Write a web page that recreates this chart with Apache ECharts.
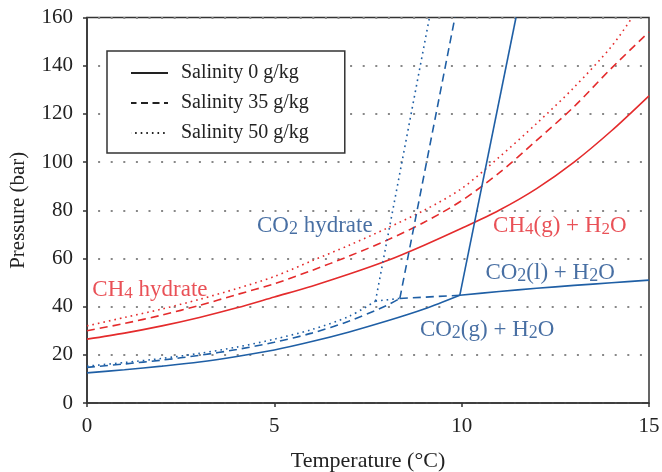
<!DOCTYPE html>
<html><head><meta charset="utf-8">
<script src="https://cdn.jsdelivr.net/npm/echarts@6/dist/echarts.min.js"></script>
<style>html,body{margin:0;padding:0;background:#fff}#c{width:662px;height:472px}</style>
</head><body><div id="c"></div>
<script>
// ---- data ----
const xTicks = [0, 5, 10, 15];
const yTicks = [0, 20, 40, 60, 80, 100, 120, 140, 160];
const legendNames = ['Salinity 0 g/kg', 'Salinity 35 g/kg', 'Salinity 50 g/kg'];

// CH4 hydrate equilibrium curves
const ch4T = [0,1,2,3,4,5,6,7,8,9,10,11,12,13,14,15];
const ch4P_s0 = [26.5,29,32,35.5,39.5,44,48.5,53.5,59,65.5,72.5,80,89,100,113,127.5];
const ch4P_s35 = [30,33,36.5,40.5,45,49.5,55,61,67.5,75,84,95.5,109,123,139,154];
const ch4T_s50 = [0,1,2,3,4,5,6,7,8,9,10,11,12,13,14,14.55];
const ch4P_s50 = [32,35.5,39,43,47.5,52.5,59,65.5,72.5,80,89,102,116,131,148,160];

// CO2 hydrate - gas boundary
const co2T_s0 = [0,1,2,3,4,5,6,7,8,9,9.95];
const co2P_s0 = [12.5,13.8,15.3,17,19.3,22,25.5,29.5,34,39,44.7];
const co2T_s35 = [0,1,2,3,4,5,6,7,8,8.35];
const co2P_s35 = [14.8,16.2,17.8,19.8,22.2,25.2,29,34,40.5,43.4];
const co2T_s50 = [0,1,2,3,4,5,6,7,7.7];
const co2P_s50 = [15.3,16.8,18.5,20.6,23.2,26.5,30.5,36,42.3];
// CO2 hydrate - liquid boundary (steep)
const co2UpT_s0 = [9.95, 11.45];   const co2UpP_s0 = [44.7, 160];
const co2UpT_s35 = [8.35, 9.82];   const co2UpP_s35 = [43.4, 160];
const co2UpT_s50 = [7.7, 9.14];    const co2UpP_s50 = [42.3, 160];
// CO2 gas-liquid boundary
const co2LiqT = [9.95, 11, 12, 13, 14, 15];
const co2LiqP = [44.7, 46.3, 47.6, 48.8, 49.9, 51];
const co2LinkT_s35 = [8.35, 9.95]; const co2LinkP_s35 = [43.4, 44.7];
const co2LinkT_s50 = [7.7, 8.35];  const co2LinkP_s50 = [42.3, 43.4];

// region labels
const labelT = [6.08, 1.68, 12.62, 12.36, 10.68];
const labelP = [73.4, 46.8, 73.4, 54.0, 30.2];
const labelText = ['{b|CO}{bs|2}{b| hydrate}', '{r|CH}{rs|4}{r| hydrate}', '{r|CH}{rs|4}{r|(g) + H}{rs|2}{r|O}', '{b|CO}{bs|2}{b|(l) + H}{bs|2}{b|O}', '{b|CO}{bs|2}{b|(g) + H}{bs|2}{b|O}'];

// ---- chart ----
const RED = '#e42b2c', BLUE = '#1f5fa5', RED_T = '#e3262d', BLUE_T = '#1a4b8c';
const FONT = 'Liberation Serif';
const pairs = (xs, ys) => xs.map((x, i) => [x, ys[i]]);
const DASH = [8, 5], DOT = [1.6, 4];
function line(name, xs, ys, color, type, smooth) {
  return { name, type: 'line', data: pairs(xs, ys), symbol: 'none', showSymbol: false, silent: true, z: 3,
    smooth: smooth ? 0.3 : false,
    itemStyle: { color }, lineStyle: { color, width: 1.6, type }, animation: false };
}
const series = [
  line('ch4_s0', ch4T, ch4P_s0, RED, 'solid', true),
  line('ch4_s35', ch4T, ch4P_s35, RED, DASH, true),
  line('ch4_s50', ch4T_s50, ch4P_s50, RED, DOT, true),
  line('co2_s0', co2T_s0, co2P_s0, BLUE, 'solid', true),
  line('co2_s35', co2T_s35, co2P_s35, BLUE, DASH, true),
  line('co2_s50', co2T_s50, co2P_s50, BLUE, DOT, true),
  line('co2up_s0', co2UpT_s0, co2UpP_s0, BLUE, 'solid'),
  line('co2up_s35', co2UpT_s35, co2UpP_s35, BLUE, DASH),
  line('co2up_s50', co2UpT_s50, co2UpP_s50, BLUE, DOT),
  line('co2liq', co2LiqT, co2LiqP, BLUE, 'solid', true),
  line('co2link_s35', co2LinkT_s35, co2LinkP_s35, BLUE, DASH),
  line('co2link_s50', co2LinkT_s50, co2LinkP_s50, BLUE, DOT),
  line(legendNames[0], [], [], '#222', 'solid'),
  line(legendNames[1], [], [], '#222', [7, 4.5]),
  line(legendNames[2], [], [], '#222', [1.6, 4]),
  {
    type: 'scatter', symbolSize: 0, silent: true, z: 5, animation: false,
    data: labelT.map((t, i) => ({ value: [t, labelP[i]],
      label: { show: true, position: 'inside', formatter: labelText[i] } })),
    label: {
      rich: {
        b: { color: BLUE_T, fontFamily: FONT, fontSize: 23, lineHeight: 24, verticalAlign: 'middle' },
        bs: { color: BLUE_T, fontFamily: FONT, fontSize: 18, lineHeight: 24, verticalAlign: 'bottom' },
        r: { color: RED_T, fontFamily: FONT, fontSize: 23, lineHeight: 24, verticalAlign: 'middle' },
        rs: { color: RED_T, fontFamily: FONT, fontSize: 17, lineHeight: 24, verticalAlign: 'bottom' }
      }
    }
  }
];

const chart = echarts.init(document.getElementById('c'), null, { renderer: 'canvas' });
chart.setOption({
  animation: false,
  backgroundColor: '#fff',
  grid: { left: 87, right: 13, top: 17.5, bottom: 69, outerBoundsMode: 'none', containLabel: false,
    show: true, borderColor: '#333', borderWidth: 1.5, backgroundColor: 'transparent' },
  legend: {
    data: legendNames, orient: 'vertical', left: 107, top: 51,
    padding: [12, 36, 10, 23], itemWidth: 37, itemHeight: 14, itemGap: 10,
    backgroundColor: '#fff', borderColor: '#333', borderWidth: 1.5, borderRadius: 0,
    selectedMode: false,
    itemStyle: { opacity: 0, color: 'transparent', borderColor: 'transparent', borderWidth: 0 },
    textStyle: { fontFamily: FONT, fontSize: 20, color: '#222', padding: [0, 0, 0, 8] }
  },
  xAxis: {
    type: 'value', min: xTicks[0], max: xTicks[xTicks.length - 1], interval: 5,
    name: 'Temperature (°C)', nameLocation: 'middle', nameGap: 47,
    nameTextStyle: { fontFamily: FONT, fontSize: 22, color: '#222' },
    axisLine: { show: true, onZero: false, lineStyle: { color: '#333', width: 1.5 } },
    axisTick: { show: true, length: 4, lineStyle: { color: '#333', width: 1.5 } },
    axisLabel: { fontFamily: FONT, fontSize: 21, color: '#222', margin: 13 },
    splitLine: { show: false }
  },
  yAxis: {
    type: 'value', min: yTicks[0], max: yTicks[yTicks.length - 1], interval: 20,
    name: 'Pressure (bar)', nameLocation: 'middle', nameGap: 58, nameRotate: 90,
    nameTextStyle: { fontFamily: FONT, fontSize: 21, color: '#222' },
    axisLine: { show: true, onZero: false, lineStyle: { color: '#333', width: 1.5 } },
    axisTick: { show: true, length: 4, lineStyle: { color: '#333', width: 1.5 } },
    axisLabel: { fontFamily: FONT, fontSize: 21, color: '#222', margin: 14 },
    splitLine: { show: true, lineStyle: { color: '#888', width: 2, type: [2, 10.6], dashOffset: 1.5 } }
  },
  series
});
</script></body></html>
